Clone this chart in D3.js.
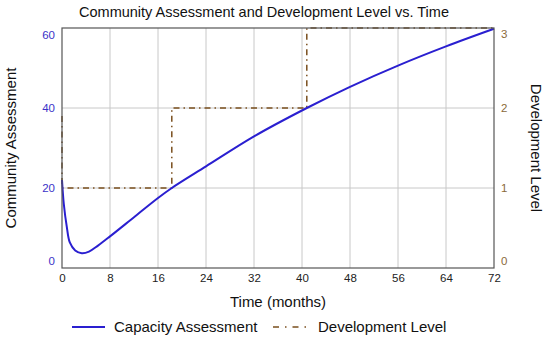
<!DOCTYPE html>
<html>
<head>
<meta charset="utf-8">
<script src="https://cdn.jsdelivr.net/npm/d3@7"></script>
<style>
  body { margin: 0; background: #fff; }
  svg { font-family: "Liberation Sans", Arial, sans-serif; }
</style>
</head>
<body>
<div id="chart"></div>
<script>
// data
const capTime  = [0, 0.3, 0.8, 1.3, 2.2, 3.3, 4.5, 6, 8, 12, 16, 18.3, 24, 32, 40.8, 48, 56, 64, 72];
const capValue = [22, 16, 10.3, 6.4, 4.4, 3.7, 4.1, 5.6, 7.9, 12.7, 17.5, 20, 25.4, 32.9, 40, 45.3, 50.6, 55.4, 59.8];
const devTime  = [0, 0, 18.3, 40.8, 72];
const devValue = [1.9, 1, 2, 3, 3];
const xTicks = [0, 8, 16, 24, 32, 40, 48, 56, 64, 72];
const yTicks = [0, 20, 40, 60];
const y2Ticks = [0, 1, 2, 3];

const margin = {top: 28, right: 56, bottom: 71, left: 62};
const W = 550, H = 339;
const width = W - margin.left - margin.right;
const height = H - margin.top - margin.bottom;

const svg = d3.select("#chart").append("svg")
  .attr("width", W).attr("height", H);

const g = svg.append("g")
  .attr("transform", `translate(${margin.left},${margin.top})`);

const x = d3.scaleLinear().domain([0, 72]).range([0, width]);
const y = d3.scaleLinear().domain([0, 60]).range([height, 0]);
const y2 = d3.scaleLinear().domain([0, 3]).range([height, 0]);

/* grid */
g.append("g").selectAll("line")
  .data(xTicks.slice(1, -1))
  .join("line")
    .attr("x1", d => x(d)).attr("x2", d => x(d))
    .attr("y1", 0).attr("y2", height)
    .attr("stroke", "#c8c8c8").attr("stroke-width", 1);
g.append("g").selectAll("line")
  .data(yTicks.slice(1, -1))
  .join("line")
    .attr("x1", 0).attr("x2", width)
    .attr("y1", d => y(d)).attr("y2", d => y(d))
    .attr("stroke", "#c8c8c8").attr("stroke-width", 1);

/* axes (labels only) */
const xAxis = g.append("g")
  .attr("transform", `translate(0,${height})`)
  .call(d3.axisBottom(x).tickValues(xTicks).tickSize(0).tickPadding(6));
xAxis.select(".domain").remove();
xAxis.selectAll("text").attr("font-size", 11.5).attr("fill", "#222")
  .attr("font-family", "Liberation Sans, Arial, sans-serif");

const yAxis = g.append("g")
  .call(d3.axisLeft(y).tickValues(yTicks).tickSize(0).tickPadding(7));
yAxis.select(".domain").remove();
yAxis.selectAll("text").attr("font-size", 11.5).attr("fill", "#3a32c8")
  .attr("font-family", "Liberation Sans, Arial, sans-serif")
  .attr("dy", d => d === 0 ? "-0.3em" : d === 60 ? "0.95em" : "0.32em");

const y2Axis = g.append("g")
  .attr("transform", `translate(${width},0)`)
  .call(d3.axisRight(y2).tickValues(y2Ticks).tickFormat(d3.format("d")).tickSize(0).tickPadding(7));
y2Axis.select(".domain").remove();
y2Axis.selectAll("text").attr("font-size", 11.5).attr("fill", "#8a6a3a")
  .attr("font-family", "Liberation Sans, Arial, sans-serif")
  .attr("dy", d => d === 0 ? "-0.3em" : d === 3 ? "0.85em" : "0.32em");

/* development level step line */
const devData = devTime.map((t, i) => ({t, v: devValue[i]}));
g.append("path")
  .datum(devData)
  .attr("fill", "none")
  .attr("stroke", "#7a4f1e")
  .attr("stroke-width", 1.5)
  .attr("stroke-dasharray", "6,4,1.5,4")
  .attr("d", d3.line().x(d => x(d.t)).y(d => y2(d.v)).curve(d3.curveStepAfter));

/* capacity assessment curve */
const capData = capTime.map((t, i) => ({t, v: capValue[i]}));
g.append("path")
  .datum(capData)
  .attr("fill", "none")
  .attr("stroke", "#2a1fd0")
  .attr("stroke-width", 2)
  .attr("d", d3.line().x(d => x(d.t)).y(d => y(d.v)).curve(d3.curveCatmullRom.alpha(0.5)));

/* frame */
g.append("rect")
  .attr("width", width).attr("height", height)
  .attr("fill", "none").attr("stroke", "#555").attr("stroke-width", 1.2);

/* titles */
svg.append("text")
  .attr("x", 264).attr("y", 17)
  .attr("text-anchor", "middle").attr("font-size", 14.5).attr("fill", "#111")
  .text("Community Assessment and Development Level vs. Time");

svg.append("text")
  .attr("x", margin.left + width / 2).attr("y", 307)
  .attr("text-anchor", "middle").attr("font-size", 15).attr("fill", "#111")
  .text("Time (months)");

svg.append("text")
  .attr("transform", `translate(16,${margin.top + height / 2}) rotate(-90)`)
  .attr("text-anchor", "middle").attr("font-size", 15).attr("fill", "#111")
  .text("Community Assessment");

svg.append("text")
  .attr("transform", `translate(531,${margin.top + height / 2}) rotate(90)`)
  .attr("text-anchor", "middle").attr("font-size", 15).attr("fill", "#111")
  .text("Development Level");

/* legend */
const legend = svg.append("g").attr("transform", "translate(0,327)");
legend.append("line")
  .attr("x1", 72).attr("x2", 105).attr("y1", 0).attr("y2", 0)
  .attr("stroke", "#2a1fd0").attr("stroke-width", 2);
legend.append("text")
  .attr("x", 114).attr("y", 5).attr("font-size", 15).attr("fill", "#111")
  .text("Capacity Assessment");
legend.append("line")
  .attr("x1", 273).attr("x2", 307).attr("y1", 0).attr("y2", 0)
  .attr("stroke", "#7a4f1e").attr("stroke-width", 1.5)
  .attr("stroke-dasharray", "6,6,1.5,6");
legend.append("text")
  .attr("x", 318).attr("y", 5).attr("font-size", 15).attr("fill", "#111")
  .text("Development Level");
</script>
</body>
</html>
